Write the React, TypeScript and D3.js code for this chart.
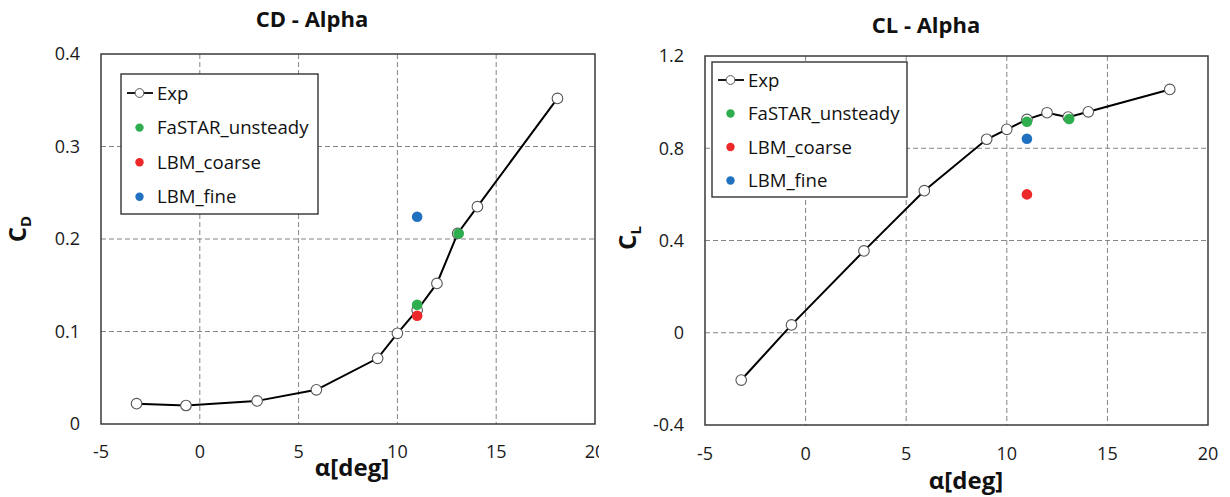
import React from 'react';
import * as d3 from 'd3';

// ---------- data ----------
const alphaExp = [-3.2, -0.7, 2.9, 5.9, 9.0, 10.0, 11.0, 12.0, 13.05, 14.05, 18.1];
const cdExp = [0.022, 0.02, 0.025, 0.037, 0.071, 0.098, 0.123, 0.152, 0.206, 0.235, 0.352];
const clExp = [-0.205, 0.034, 0.355, 0.616, 0.839, 0.882, 0.925, 0.954, 0.935, 0.958, 1.055];

const alphaFastar = [11.0, 13.1];
const cdFastar = [0.129, 0.206];
const clFastar = [0.915, 0.927];

const alphaCoarse = [11.0];
const cdCoarse = [0.117];
const clCoarse = [0.6];

const alphaFine = [11.0];
const cdFine = [0.224];
const clFine = [0.841];

const xTicks = [-5, 0, 5, 10, 15, 20];
const cdTicks = [0, 0.1, 0.2, 0.3, 0.4];
const clTicks = [-0.4, 0, 0.4, 0.8, 1.2];

const legendLabels = ['Exp', 'FaSTAR_unsteady', 'LBM_coarse', 'LBM_fine'];
const seriesColors = ['#ffffff', '#2EAE4E', '#EC2828', '#2072C0'];

const FONT = '"Open Sans", "Liberation Sans", sans-serif';

type Frame = { x0: number; x1: number; yTop: number; yBot: number };
type Pt = { x: number; y: number };

function zip(xs: number[], ys: number[]): Pt[] {
  return xs.map((x, i) => ({ x, y: ys[i] }));
}

interface ChartProps {
  id: string;
  frame: Frame;
  yDomain: [number, number];
  yTicks: number[];
  exp: Pt[];
  fastar: Pt[];
  coarse: Pt[];
  fine: Pt[];
  title: string;
  titlePos: [number, number];
  yMain: string;
  ySub: string;
  yLabelPos: [number, number];
  xLabelPos: [number, number];
  xTickBaseline: number;
  legend: { x: number; y: number; w: number; h: number; row0: number; step: number };
  clipRight?: number;
}

function Chart(p: ChartProps) {
  const { frame: f } = p;
  const x = d3.scaleLinear().domain([-5, 20]).range([f.x0, f.x1]);
  const y = d3.scaleLinear().domain(p.yDomain).range([f.yBot, f.yTop]);
  const line = d3
    .line<Pt>()
    .x((d) => x(d.x))
    .y((d) => y(d.y));
  const innerX = xTicks.filter((t) => t !== xTicks[0] && t !== xTicks[xTicks.length - 1]);
  const innerY = p.yTicks.filter((t) => t !== p.yDomain[0] && t !== p.yDomain[1]);
  const lg = p.legend;
  const groups: [Pt[], string][] = [
    [p.fastar, seriesColors[1]],
    [p.coarse, seriesColors[2]],
    [p.fine, seriesColors[3]],
  ];
  return (
    <g clipPath={p.clipRight ? `url(#${p.id}-clip)` : undefined}>
      {p.clipRight ? (
        <defs>
          <clipPath id={`${p.id}-clip`}>
            <rect x={0} y={0} width={p.clipRight} height={497} />
          </clipPath>
        </defs>
      ) : null}
      {/* grid */}
      {innerX.map((t) => (
        <line key={'gx' + t} x1={x(t)} x2={x(t)} y1={f.yTop} y2={f.yBot} stroke="#858585" strokeWidth={1} strokeDasharray="5,3" />
      ))}
      {innerY.map((t) => (
        <line key={'gy' + t} x1={f.x0} x2={f.x1} y1={y(t)} y2={y(t)} stroke="#858585" strokeWidth={1} strokeDasharray="5,3" />
      ))}
      <rect x={f.x0} y={f.yTop} width={f.x1 - f.x0} height={f.yBot - f.yTop} fill="none" stroke="#3a3a3a" strokeWidth={1.5} />
      {/* tick labels */}
      {p.yTicks.map((t) => (
        <text key={'ty' + t} x={f.x0 - 21} y={y(t)} dy="0.35em" textAnchor="end" fontSize={18} fontFamily={FONT} fill="#1a1a1a">
          {String(t)}
        </text>
      ))}
      {xTicks.map((t) => (
        <text key={'tx' + t} x={x(t)} y={p.xTickBaseline} textAnchor="middle" fontSize={18} fontFamily={FONT} fill="#1a1a1a">
          {String(t)}
        </text>
      ))}
      {/* exp line + markers */}
      <path d={line(p.exp) || ''} fill="none" stroke="#000" strokeWidth={2} />
      {p.exp.map((d, i) => (
        <circle key={'e' + i} cx={x(d.x)} cy={y(d.y)} r={5.3} fill="#fff" stroke="#555" strokeWidth={1.1} />
      ))}
      {groups.map(([pts, c], gi) =>
        pts.map((d, i) => <circle key={'s' + gi + '-' + i} cx={x(d.x)} cy={y(d.y)} r={5.3} fill={c} />)
      )}
      {/* legend */}
      <rect x={lg.x} y={lg.y} width={lg.w} height={lg.h} fill="#fff" stroke="#333" strokeWidth={1.4} />
      {legendLabels.map((lab, i) => {
        const cy = lg.y + lg.row0 + i * lg.step;
        const mx = lg.x + 18.5;
        return (
          <g key={'lg' + i}>
            {i === 0 ? (
              <g>
                <line x1={lg.x + 6} x2={lg.x + 32} y1={cy} y2={cy} stroke="#000" strokeWidth={1.8} />
                <circle cx={mx} cy={cy} r={4.4} fill="#fff" stroke="#555" strokeWidth={1} />
              </g>
            ) : (
              <circle cx={mx} cy={cy} r={4.2} fill={seriesColors[i]} />
            )}
            <text x={lg.x + 36} y={cy} dy="0.35em" fontSize={18.6} fontFamily={FONT} fill="#111">
              {lab}
            </text>
          </g>
        );
      })}
      {/* titles */}
      <text x={p.titlePos[0]} y={p.titlePos[1]} textAnchor="middle" fontSize={22} fontWeight="bold" fontFamily={FONT} fill="#111">
        {p.title}
      </text>
      <text x={p.xLabelPos[0]} y={p.xLabelPos[1]} textAnchor="middle" fontSize={24} fontWeight="bold" fontFamily={FONT} fill="#111">
        α[deg]
      </text>
      <text
        transform={`translate(${p.yLabelPos[0]},${p.yLabelPos[1]}) rotate(-90)`}
        textAnchor="middle"
        fontSize={24}
        fontWeight="bold"
        fontFamily={FONT}
        fill="#111"
      >
        {p.yMain}
        <tspan fontSize={15} dy={5}>
          {p.ySub}
        </tspan>
      </text>
    </g>
  );
}

export default function App() {
  return (
    <svg
      width={1230}
      height={497}
      style={{ position: 'absolute', left: 0, top: 0, background: '#fff' }}
      xmlns="http://www.w3.org/2000/svg"
    >
      <rect x={0} y={0} width={1230} height={497} fill="#fff" />
      <Chart
        id="cd"
        frame={{ x0: 101, x1: 595, yTop: 54, yBot: 424 }}
        yDomain={[0, 0.4]}
        yTicks={cdTicks}
        exp={zip(alphaExp, cdExp)}
        fastar={zip(alphaFastar, cdFastar)}
        coarse={zip(alphaCoarse, cdCoarse)}
        fine={zip(alphaFine, cdFine)}
        title="CD - Alpha"
        titlePos={[312, 27]}
        yMain="C"
        ySub="D"
        yLabelPos={[26, 229]}
        xLabelPos={[352, 476]}
        xTickBaseline={458}
        legend={{ x: 121, y: 74, w: 197, h: 140, row0: 19, step: 34.6 }}
        clipRight={599}
      />
      <Chart
        id="cl"
        frame={{ x0: 705, x1: 1208, yTop: 56, yBot: 425 }}
        yDomain={[-0.4, 1.2]}
        yTicks={clTicks}
        exp={zip(alphaExp, clExp)}
        fastar={zip(alphaFastar, clFastar)}
        coarse={zip(alphaCoarse, clCoarse)}
        fine={zip(alphaFine, clFine)}
        title="CL - Alpha"
        titlePos={[926, 33]}
        yMain="C"
        ySub="L"
        yLabelPos={[636, 238]}
        xLabelPos={[966, 489]}
        xTickBaseline={460}
        legend={{ x: 712, y: 62, w: 195, h: 135, row0: 18, step: 33.5 }}
      />
    </svg>
  );
}
